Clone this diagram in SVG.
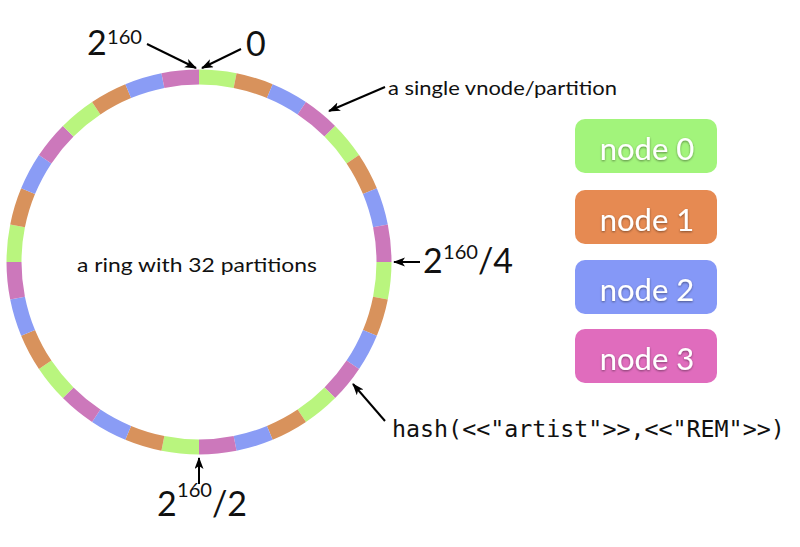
<svg xmlns="http://www.w3.org/2000/svg" width="800" height="547" viewBox="0 0 800 547">
<style>
  .seg { fill: none; stroke-width: 15; stroke-linecap: butt; }
  .c0 { stroke: #b9f57e; }
  .c1 { stroke: #d8925c; }
  .c2 { stroke: #8a9cf5; }
  .c3 { stroke: #cc78bb; }
  .lbl { font-family: Lato, "Liberation Sans", sans-serif; fill: #111; }
  .big { font-size: 34px; }
  .sup { font-size: 20px; }
  .small { font-size: 20px; }
  .mono { font-family: "DejaVu Sans Mono", "Liberation Mono", monospace; font-size: 23.3px; fill: #111; }
  .arrow { stroke: #000; stroke-width: 2; fill: none; marker-end: url(#ah); }
  .box { stroke: none; }
  .btxt { font-family: Lato, "Liberation Sans", sans-serif; font-size: 31px; fill: #fff; text-anchor: middle; filter: url(#sh); }
</style>
<defs>
  <marker id="ah" markerUnits="userSpaceOnUse" markerWidth="12" markerHeight="10" refX="11" refY="4.5" orient="auto">
    <path d="M0,0 L12,4.5 L0,9 L3,4.5 z" fill="#000"/>
  </marker>
  <filter id="sh" x="-10%" y="-20%" width="120%" height="150%">
    <feDropShadow dx="0" dy="1" stdDeviation="1" flood-color="#000" flood-opacity="0.45"/>
  </filter>
</defs>
<rect width="800" height="547" fill="#fff"/>
<g id="ring">
  <path class="seg c0" d="M199,77 A185,185 0 0 1 235.092,80.555"/>
  <path class="seg c1" d="M235.092,80.555 A185,185 0 0 1 269.796,91.082"/>
  <path class="seg c2" d="M269.796,91.082 A185,185 0 0 1 301.78,108.178"/>
  <path class="seg c3" d="M301.78,108.178 A185,185 0 0 1 329.815,131.185"/>
  <path class="seg c0" d="M329.815,131.185 A185,185 0 0 1 352.822,159.22"/>
  <path class="seg c1" d="M352.822,159.22 A185,185 0 0 1 369.918,191.204"/>
  <path class="seg c2" d="M369.918,191.204 A185,185 0 0 1 380.445,225.908"/>
  <path class="seg c3" d="M380.445,225.908 A185,185 0 0 1 384,262"/>
  <path class="seg c0" d="M384,262 A185,185 0 0 1 380.445,298.092"/>
  <path class="seg c1" d="M380.445,298.092 A185,185 0 0 1 369.918,332.796"/>
  <path class="seg c2" d="M369.918,332.796 A185,185 0 0 1 352.822,364.78"/>
  <path class="seg c3" d="M352.822,364.78 A185,185 0 0 1 329.815,392.815"/>
  <path class="seg c0" d="M329.815,392.815 A185,185 0 0 1 301.78,415.822"/>
  <path class="seg c1" d="M301.78,415.822 A185,185 0 0 1 269.796,432.918"/>
  <path class="seg c2" d="M269.796,432.918 A185,185 0 0 1 235.092,443.445"/>
  <path class="seg c3" d="M235.092,443.445 A185,185 0 0 1 199,447"/>
  <path class="seg c0" d="M199,447 A185,185 0 0 1 162.908,443.445"/>
  <path class="seg c1" d="M162.908,443.445 A185,185 0 0 1 128.204,432.918"/>
  <path class="seg c2" d="M128.204,432.918 A185,185 0 0 1 96.22,415.822"/>
  <path class="seg c3" d="M96.22,415.822 A185,185 0 0 1 68.185,392.815"/>
  <path class="seg c0" d="M68.185,392.815 A185,185 0 0 1 45.178,364.78"/>
  <path class="seg c1" d="M45.178,364.78 A185,185 0 0 1 28.082,332.796"/>
  <path class="seg c2" d="M28.082,332.796 A185,185 0 0 1 17.555,298.092"/>
  <path class="seg c3" d="M17.555,298.092 A185,185 0 0 1 14,262"/>
  <path class="seg c0" d="M14,262 A185,185 0 0 1 17.555,225.908"/>
  <path class="seg c1" d="M17.555,225.908 A185,185 0 0 1 28.082,191.204"/>
  <path class="seg c2" d="M28.082,191.204 A185,185 0 0 1 45.178,159.22"/>
  <path class="seg c3" d="M45.178,159.22 A185,185 0 0 1 68.185,131.185"/>
  <path class="seg c0" d="M68.185,131.185 A185,185 0 0 1 96.22,108.178"/>
  <path class="seg c1" d="M96.22,108.178 A185,185 0 0 1 128.204,91.082"/>
  <path class="seg c2" d="M128.204,91.082 A185,185 0 0 1 162.908,80.555"/>
  <path class="seg c3" d="M162.908,80.555 A185,185 0 0 1 199,77"/>
  <text class="lbl small" x="77" y="272" textLength="240" lengthAdjust="spacingAndGlyphs">a ring with 32 partitions</text>
</g>
<g id="connectors">
  <line class="arrow" x1="147" y1="44" x2="196" y2="68"/>
  <line class="arrow" x1="241" y1="49" x2="202" y2="68"/>
  <line class="arrow" x1="385" y1="87" x2="329" y2="111"/>
  <line class="arrow" x1="420" y1="262" x2="394" y2="262"/>
  <line class="arrow" x1="385" y1="421" x2="353" y2="384"/>
  <line class="arrow" x1="199" y1="484" x2="199" y2="458"/>
</g>
<g id="labels">
  <text class="lbl big" x="87" y="55">2</text>
  <text class="lbl sup" x="107" y="44" textLength="35" lengthAdjust="spacingAndGlyphs">160</text>
  <text class="lbl big" x="246" y="56">0</text>
  <text class="lbl small" x="388" y="95" textLength="229" lengthAdjust="spacingAndGlyphs">a single vnode/partition</text>
  <text class="lbl big" x="423" y="273">2</text>
  <text class="lbl sup" x="443" y="259" textLength="35" lengthAdjust="spacingAndGlyphs">160</text>
  <text class="lbl big" x="478" y="273">/4</text>
  <text class="lbl big" x="157" y="516">2</text>
  <text class="lbl sup" x="177" y="497" textLength="35" lengthAdjust="spacingAndGlyphs">160</text>
  <text class="lbl big" x="212" y="516">/2</text>
  <text class="mono" x="392" y="437">hash(&lt;&lt;"artist"&gt;&gt;,&lt;&lt;"REM"&gt;&gt;)</text>
</g>
<g id="node0">
  <rect class="box" x="575" y="119" width="142" height="54" rx="10" fill="#a2f47b"/>
  <text class="btxt" x="647" y="160">node 0</text>
</g>
<g id="node1">
  <rect class="box" x="575" y="190" width="142" height="54" rx="10" fill="#e68a52"/>
  <text class="btxt" x="647" y="231">node 1</text>
</g>
<g id="node2">
  <rect class="box" x="575" y="260" width="142" height="54" rx="10" fill="#8598f7"/>
  <text class="btxt" x="647" y="301">node 2</text>
</g>
<g id="node3">
  <rect class="box" x="575" y="329" width="142" height="54" rx="10" fill="#e06cbd"/>
  <text class="btxt" x="647" y="370">node 3</text>
</g>
</svg>
